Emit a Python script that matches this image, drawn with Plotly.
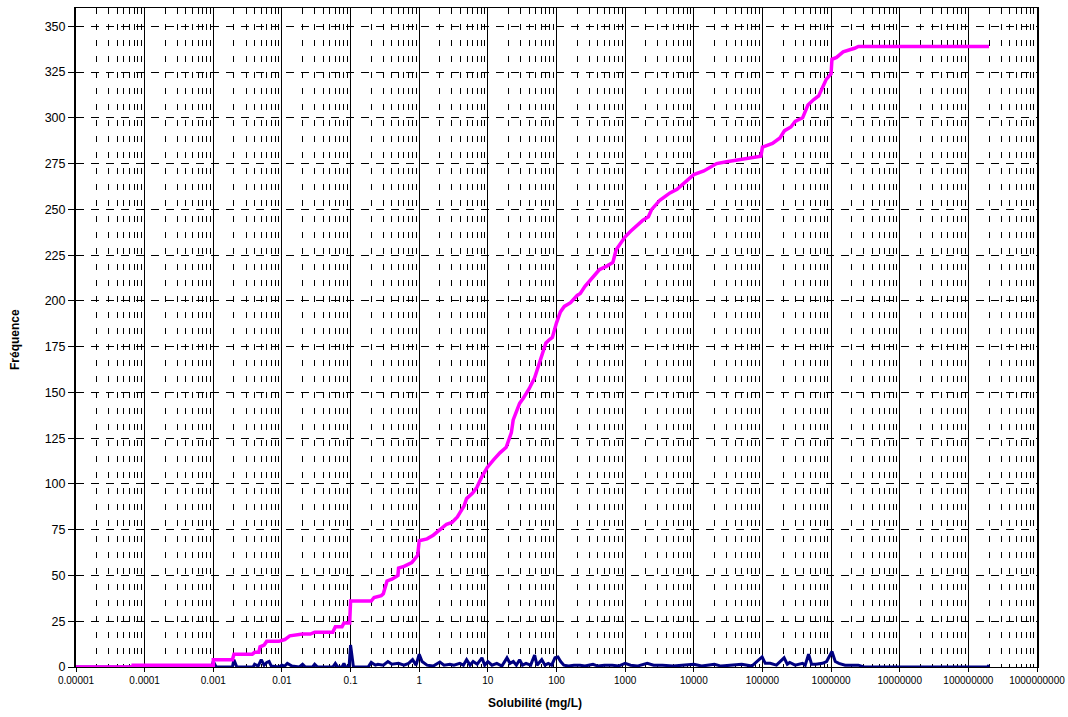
import plotly.graph_objects as go

# Cumulative frequency (pink)
cum_x = [1e-5, 6.8e-5, 6.8e-5, 0.001, 0.001, 0.0019, 0.002, 0.0037, 0.004, 0.0046, 0.0048, 0.0055,
         0.006, 0.009, 0.011, 0.013, 0.02, 0.026, 0.03, 0.055, 0.06, 0.075, 0.08, 0.097, 0.1, 0.2,
         0.22, 0.28, 0.3, 0.34, 0.4, 0.49, 0.5, 0.6, 0.78, 0.95, 1.0, 1.3, 1.6, 2.0, 2.5, 3.0, 3.6,
         4.5, 4.9, 6.0, 6.9, 8.2, 9.8, 12, 15, 18.5, 22, 23.4, 29, 33, 40, 48, 57, 63, 70, 80, 87,
         100, 114, 130, 160, 200, 222, 260, 290, 350, 420, 540, 663, 740, 850, 1000, 1200, 1480,
         1800, 2180, 2440, 3200, 4500, 5700, 7000, 10000, 14000, 21500, 30000, 42000, 60000, 95000,
         100000, 140000, 180000, 210000, 260000, 300000, 385000, 460000, 560000, 660000, 760000,
         850000, 1000000, 1030000, 1200000, 1500000, 2200000, 2500000, 200000000]
cum_y = [0, 0, 1, 1, 4, 4, 7, 7, 8, 8, 11, 12,
         14, 14, 15, 17, 18, 18, 19, 19, 22, 22, 24, 24, 36, 36,
         38, 39, 40, 47, 48, 50, 54, 55, 57, 61, 69, 70, 72, 75, 78, 79, 82,
         88, 92, 95, 98, 104, 109, 113, 117, 120, 128, 135, 144, 147, 152, 158, 166, 171, 177, 179, 180,
         188, 194, 197, 199, 203, 204, 208, 210, 213, 217, 219, 221, 228, 231, 235, 238, 241,
         244, 246, 250, 255, 259, 261, 264, 269, 271, 275, 276, 277, 278, 279,
         284, 286, 289, 293, 295, 298, 300, 307, 310, 312, 317,
         321, 324, 332, 333, 336, 338, 339, 339]

# Frequency per class (navy)
freq_x = [1e-5, 0.00095, 0.001, 0.0011, 0.0019, 0.002, 0.0022, 0.0038, 0.004, 0.0045, 0.005, 0.0055,
          0.006, 0.0065, 0.007, 0.009, 0.01, 0.011, 0.012, 0.014, 0.018, 0.02, 0.022, 0.028, 0.03,
          0.033, 0.055, 0.06, 0.065, 0.075, 0.08, 0.085, 0.095, 0.1, 0.11, 0.18, 0.2, 0.23, 0.25,
          0.3, 0.35, 0.4, 0.5, 0.6, 0.7, 0.8, 0.9, 1.0, 1.1, 1.3, 1.6, 2.0, 2.3, 2.8, 3.2, 3.9, 4.4,
          4.9, 5.5, 6.1, 7, 8.2, 9, 10, 11.5, 13.5, 16, 19, 21, 23.5, 26, 29, 32, 36, 42, 48, 52, 61,
          68, 76, 85, 95, 105, 115, 128, 150, 180, 220, 260, 340, 400, 500, 650, 800, 1000, 1200,
          1500, 2100, 2600, 3500, 5000, 7000, 10000, 13000, 20000, 25000, 35000, 50000, 70000,
          99000, 110000, 130000, 160000, 207000, 230000, 250000, 300000, 385000, 420000, 470000,
          520000, 600000, 750000, 860000, 1030000, 1150000, 1300000, 1600000, 2000000, 2500000,
          3000000, 190000000, 200000000]
freq_y = [0, 0, 3, 0, 0, 4, 0, 0, 1.5, 0.5, 4, 1,
          2.5, 3, 0.5, 0, 1, 0.5, 2, 0.5, 0, 1.5, 0, 0, 1.5,
          0, 0, 2, 0, 0, 2, 0, 0, 12, 0, 0, 2.5, 1, 1.5,
          1, 3, 1.5, 2, 1, 2, 4, 1, 7, 3, 1, 0.5, 2.7, 1, 1.5, 1, 2, 1,
          4, 1, 3, 1.5, 5, 1, 3, 1, 2, 0.5, 5, 2, 3, 1, 4, 1, 2, 1, 6.5, 1, 4,
          1, 2, 1, 5, 5.5, 3, 1, 0.5, 1, 1, 0.5, 1.5, 0.5, 1, 1, 0.5, 2, 1,
          0.5, 2, 1, 1, 0.5, 1, 1.5, 0.5, 1.5, 0.5, 1, 1.5, 0.5,
          5.5, 2, 2, 1, 5, 1.5, 2.5, 1, 2, 1, 7,
          1.5, 1.5, 2, 3, 8.5, 3, 2, 1, 1, 1,
          0, 0, 1]

x_tickvals = [1e-5, 1e-4, 1e-3, 1e-2, 1e-1, 1, 10, 100, 1e3, 1e4, 1e5, 1e6, 1e7, 1e8, 1e9]
x_ticktext = ["0.00001", "0.0001", "0.001", "0.01", "0.1", "1", "10", "100", "1000", "10000",
              "100000", "1000000", "10000000", "100000000", "1000000000"]
y_tickvals = list(range(0, 351, 25))

minor_vals = [m * d for d in x_tickvals[:-1] for m in range(2, 10)]

fig = go.Figure()
fig.add_trace(go.Scatter(x=freq_x, y=freq_y, mode="lines",
                         line=dict(color="#000080", width=3), showlegend=False))
fig.add_trace(go.Scatter(x=cum_x, y=cum_y, mode="lines",
                         line=dict(color="#FF00FF", width=3.5), showlegend=False))

font = "Liberation Sans, Arial, sans-serif"
fig.update_layout(
    width=1068, height=717,
    margin=dict(l=76, r=31, t=8, b=50, autoexpand=False),
    plot_bgcolor="white", paper_bgcolor="white",
    font=dict(family=font, color="black"),
    xaxis=dict(
        type="log", range=[-5, 9], automargin=False,
        tickmode="array", tickvals=x_tickvals, ticktext=x_ticktext,
        tickfont=dict(size=10), ticks="outside", ticklen=4, tickcolor="black",
        showgrid=True, gridcolor="black", gridwidth=1,
        minor=dict(tickmode="array", tickvals=minor_vals, showgrid=True,
                   gridcolor="black", griddash="6px,10px", gridwidth=1, ticks=""),
        showline=True, linecolor="black", linewidth=1, mirror=True,
        zeroline=False,
    ),
    yaxis=dict(
        range=[0, 360], automargin=False,
        tickmode="array", tickvals=y_tickvals,
        tickfont=dict(size=12.5), ticks="outside", ticklen=6, tickcolor="black",
        showgrid=True, gridcolor="black", griddash="8px,7px", gridwidth=1,
        showline=True, linecolor="black", linewidth=2, mirror=True,
        zeroline=False,
    ),
    annotations=[
        dict(text="<b>Solubilité (mg/L)</b>", xref="paper", yref="paper",
             x=(535 - 76) / 961, y=(667 - 703) / 659, xanchor="center", yanchor="middle",
             showarrow=False, font=dict(size=12)),
        dict(text="<b>Fréquence</b>", xref="paper", yref="paper",
             x=(15 - 76) / 961, y=(667 - 340) / 659, xanchor="center", yanchor="middle",
             textangle=-90, showarrow=False, font=dict(size=12)),
    ],
)

fig.write_html("out.html")
